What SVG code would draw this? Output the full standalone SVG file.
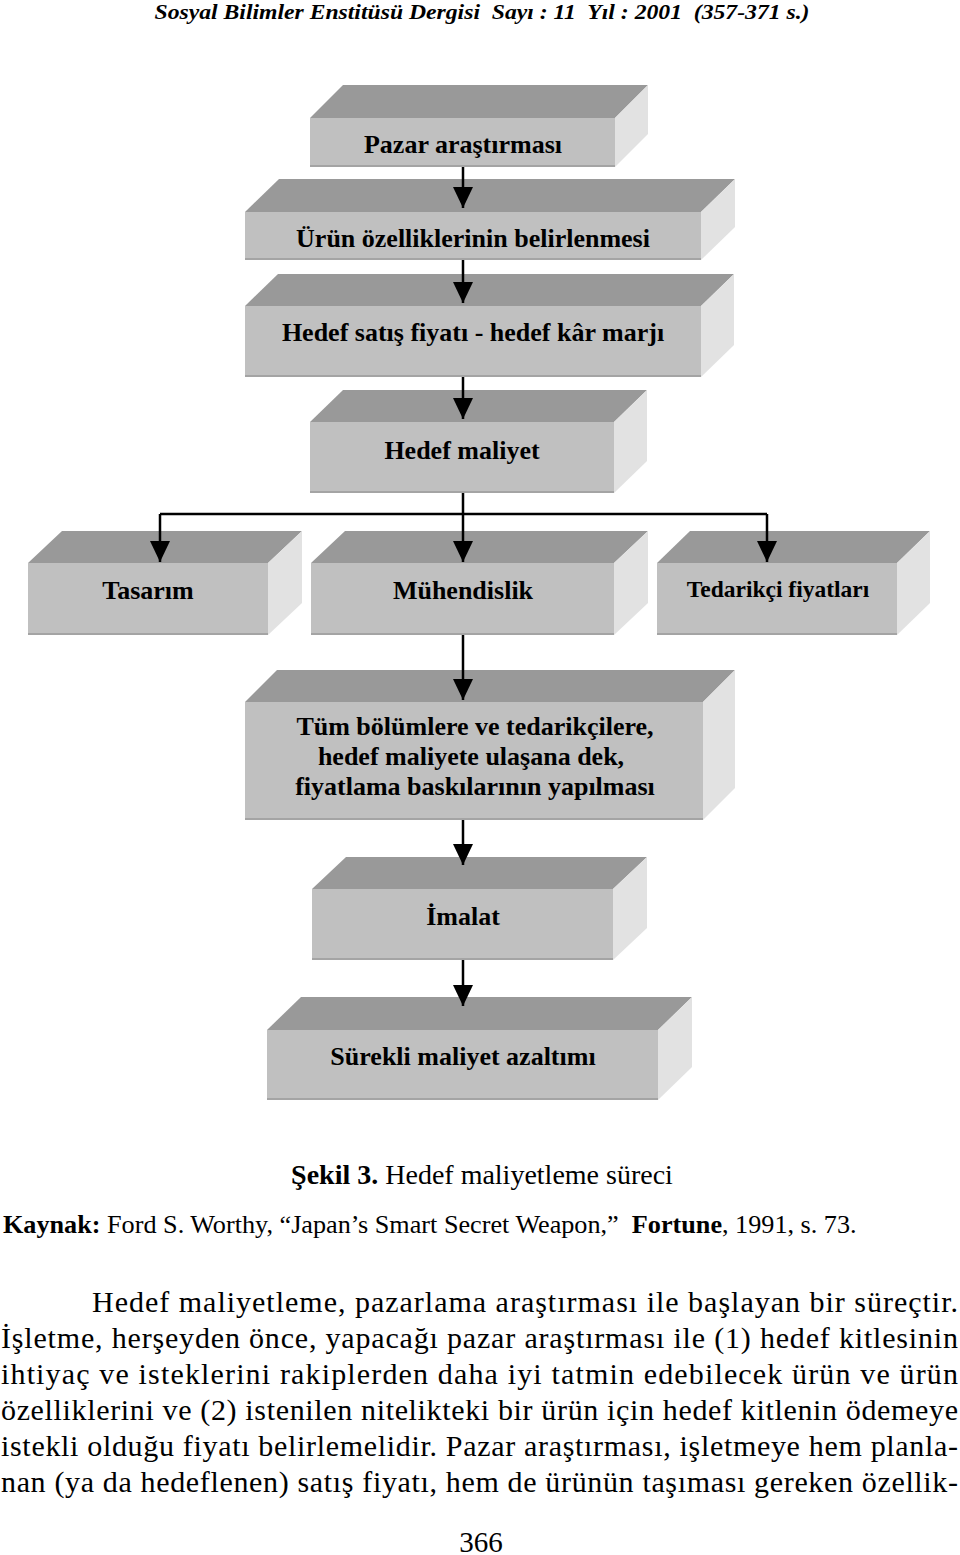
<svg xmlns="http://www.w3.org/2000/svg" width="960" height="1555" viewBox="0 0 960 1555">
<style>
.top{fill:#999999}
.front{fill:#c0c0c0}
.side{fill:#e2e2e2}
.edge{stroke:#a4a4a4;stroke-width:2;fill:none}
.lbl{font-family:"Liberation Serif","Times New Roman",serif;font-weight:bold;font-size:26px;fill:#000;text-anchor:middle}
.conn{stroke:#000;stroke-width:2.5;fill:none}
.body{font-family:"Liberation Serif","Times New Roman",serif;font-size:30px;fill:#000}
.hdr{font-family:"Liberation Serif","Times New Roman",serif;font-size:20px;font-weight:bold;font-style:italic;fill:#000;text-anchor:middle}
.cap{font-family:"Liberation Serif","Times New Roman",serif;fill:#000}
</style>
<defs>
<marker id="ah" viewBox="0 0 21 20" refX="21" refY="10" markerWidth="21" markerHeight="20" markerUnits="userSpaceOnUse" orient="auto">
<path d="M0,0 L21,10 L0,20 Z" fill="#000"/>
</marker>
</defs>
<rect width="960" height="1555" fill="#fff"/>

<text class="hdr" x="482" y="19" xml:space="preserve" textLength="655" lengthAdjust="spacingAndGlyphs">Sosyal Bilimler Enstitüsü Dergisi  Sayı : 11  Yıl : 2001  (357-371 s.)</text>

<g id="n1">
<polygon class="top" points="310,118 343,85 648,85 615,118"/>
<polygon class="side" points="615,118 648,85 648,134 615,167"/>
<rect class="front" x="310" y="118" width="305" height="49"/>
<line class="edge" x1="310" y1="166" x2="615" y2="166"/>
<text class="lbl" x="463" y="153">Pazar araştırması</text>
</g>
<g id="n2">
<polygon class="top" points="245,212 279,179 735,179 701,212"/>
<polygon class="side" points="701,212 735,179 735,227 701,260"/>
<rect class="front" x="245" y="212" width="456" height="48"/>
<line class="edge" x1="245" y1="259" x2="701" y2="259"/>
<text class="lbl" x="473" y="247">Ürün özelliklerinin belirlenmesi</text>
</g>
<g id="n3">
<polygon class="top" points="245,306 278,274 734,274 701,306"/>
<polygon class="side" points="701,306 734,274 734,345 701,377"/>
<rect class="front" x="245" y="306" width="456" height="71"/>
<line class="edge" x1="245" y1="376" x2="701" y2="376"/>
<text class="lbl" x="473" y="341">Hedef satış fiyatı - hedef kâr marjı</text>
</g>
<g id="n4">
<polygon class="top" points="310,422 343,390 647,390 614,422"/>
<polygon class="side" points="614,422 647,390 647,461 614,493"/>
<rect class="front" x="310" y="422" width="304" height="71"/>
<line class="edge" x1="310" y1="492" x2="614" y2="492"/>
<text class="lbl" x="462" y="459">Hedef maliyet</text>
</g>
<g id="n5">
<polygon class="top" points="28,563 62,531 302,531 268,563"/>
<polygon class="side" points="268,563 302,531 302,603 268,635"/>
<rect class="front" x="28" y="563" width="240" height="72"/>
<line class="edge" x1="28" y1="634" x2="268" y2="634"/>
<text class="lbl" x="148" y="599">Tasarım</text>
</g>
<g id="n6">
<polygon class="top" points="311,563 345,531 648,531 614,563"/>
<polygon class="side" points="614,563 648,531 648,603 614,635"/>
<rect class="front" x="311" y="563" width="303" height="72"/>
<line class="edge" x1="311" y1="634" x2="614" y2="634"/>
<text class="lbl" x="463" y="599">Mühendislik</text>
</g>
<g id="n7">
<polygon class="top" points="657,563 690,531 930,531 897,563"/>
<polygon class="side" points="897,563 930,531 930,603 897,635"/>
<rect class="front" x="657" y="563" width="240" height="72"/>
<line class="edge" x1="657" y1="634" x2="897" y2="634"/>
<text class="lbl" x="778" y="597" style="font-size:23.5px">Tedarikçi fiyatları</text>
</g>
<g id="n8">
<polygon class="top" points="245,702 277,670 735,670 703,702"/>
<polygon class="side" points="703,702 735,670 735,788 703,820"/>
<rect class="front" x="245" y="702" width="458" height="118"/>
<line class="edge" x1="245" y1="819" x2="703" y2="819"/>
<text class="lbl" x="475" y="735">Tüm bölümlere ve tedarikçilere,</text>
<text class="lbl" x="471" y="765">hedef maliyete ulaşana dek,</text>
<text class="lbl" x="475" y="795">fiyatlama baskılarının yapılması</text>
</g>
<g id="n9">
<polygon class="top" points="312,889 346,857 647,857 613,889"/>
<polygon class="side" points="613,889 647,857 647,928 613,960"/>
<rect class="front" x="312" y="889" width="301" height="71"/>
<line class="edge" x1="312" y1="959" x2="613" y2="959"/>
<text class="lbl" x="463" y="925">İmalat</text>
</g>
<g id="n10">
<polygon class="top" points="267,1030 301,997 692,997 658,1030"/>
<polygon class="side" points="658,1030 692,997 692,1067 658,1100"/>
<rect class="front" x="267" y="1030" width="391" height="70"/>
<line class="edge" x1="267" y1="1099" x2="658" y2="1099"/>
<text class="lbl" x="463" y="1065">Sürekli maliyet azaltımı</text>
</g>

<g id="connectors">
<path class="conn" d="M463,167 V208" marker-end="url(#ah)"/>
<path class="conn" d="M463,260 V303" marker-end="url(#ah)"/>
<path class="conn" d="M463,377 V419" marker-end="url(#ah)"/>
<path class="conn" d="M463,493 V514 M160,514 H767"/>
<path class="conn" d="M160,514 V562" marker-end="url(#ah)"/>
<path class="conn" d="M463,514 V562" marker-end="url(#ah)"/>
<path class="conn" d="M767,514 V562" marker-end="url(#ah)"/>
<path class="conn" d="M463,635 V700" marker-end="url(#ah)"/>
<path class="conn" d="M463,820 V865" marker-end="url(#ah)"/>
<path class="conn" d="M463,960 V1006" marker-end="url(#ah)"/>
</g>

<text class="cap" x="482" y="1184" text-anchor="middle" style="font-size:28px"><tspan font-weight="bold">Şekil 3.</tspan> Hedef maliyetleme süreci</text>
<text class="cap" x="3" y="1233" xml:space="preserve" style="font-size:26.2px"><tspan font-weight="bold">Kaynak:</tspan> Ford S. Worthy, “Japan’s Smart Secret Weapon,”  <tspan font-weight="bold">Fortune</tspan>, 1991, s. 73.</text>

<text class="body" x="92" y="1312" textLength="866" lengthAdjust="spacing">Hedef maliyetleme, pazarlama araştırması ile başlayan bir süreçtir.</text>
<text class="body" x="1" y="1348" textLength="957" lengthAdjust="spacing">İşletme, herşeyden önce, yapacağı pazar araştırması ile (1) hedef kitlesinin</text>
<text class="body" x="1" y="1384" textLength="957" lengthAdjust="spacing">ihtiyaç ve isteklerini rakiplerden daha iyi tatmin edebilecek ürün ve ürün</text>
<text class="body" x="1" y="1420" textLength="957" lengthAdjust="spacing">özelliklerini ve (2) istenilen nitelikteki bir ürün için hedef kitlenin ödemeye</text>
<text class="body" x="1" y="1456" textLength="957" lengthAdjust="spacing">istekli olduğu fiyatı belirlemelidir. Pazar araştırması, işletmeye hem planla-</text>
<text class="body" x="1" y="1492" textLength="957" lengthAdjust="spacing">nan (ya da hedeflenen) satış fiyatı, hem de ürünün taşıması gereken özellik-</text>
<text class="body" x="481" y="1552" text-anchor="middle" style="font-size:29px">366</text>
</svg>
